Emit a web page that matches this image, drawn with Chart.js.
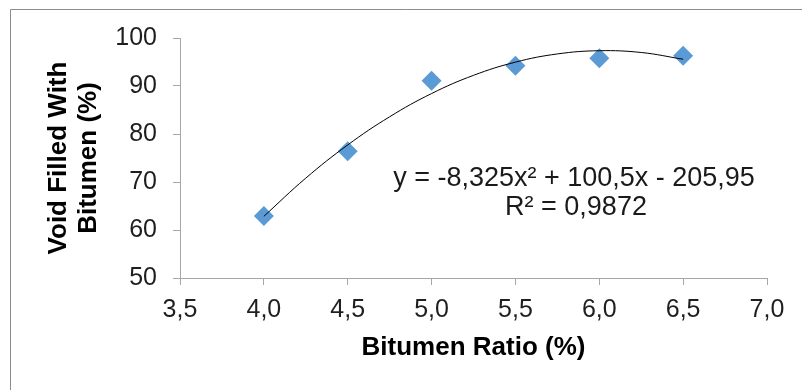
<!DOCTYPE html>
<html>
<head>
<meta charset="utf-8">
<script src="https://cdn.jsdelivr.net/npm/chart.js@4/dist/chart.umd.min.js"></script>
<style>
  html, body { margin: 0; padding: 0; background: #ffffff; }
  #wrap { width: 802px; height: 390px; }
</style>
</head>
<body>
<div id="wrap"><canvas id="c" width="802" height="390"></canvas></div>
<script>
// ---- data ----
const bitumenRatio = [4.0, 4.5, 5.0, 5.5, 6.0, 6.5];
const voidFilled   = [62.9, 76.4, 91.1, 94.2, 95.8, 96.3];

// polynomial trendline (as printed on the chart), sampled points
const trendX = [4.0, 4.25, 4.5, 4.75, 5.0, 5.25, 5.5, 5.75, 6.0, 6.25, 6.5];
const trendY = [62.85, 70.81, 77.72, 83.59, 88.43, 92.22, 94.97, 96.68, 97.35, 96.98, 95.57];

const equationLines = ['y = -8,325x\u00B2 + 100,5x - 205,95', 'R\u00B2 = 0,9872'];

const xTitle = 'Bitumen Ratio (%)';
const yTitle = ['Void Filled With', 'Bitumen (%)'];
const xRange = [3.5, 7.0, 0.5];
const yRange = [50, 100, 10];

// ---- chart ----
const FONT = "'Liberation Sans', Arial, sans-serif";
const AXIS = '#a6a6a6';
const TEXT = '#1f1f1f';

const framePlugin = {
  id: 'frame',
  beforeDraw(chart) {
    const ctx = chart.ctx;
    ctx.save();
    ctx.fillStyle = '#ffffff';
    ctx.fillRect(0, 0, chart.width, chart.height);
    ctx.strokeStyle = '#8c8c8c';
    ctx.lineWidth = 1;
    ctx.beginPath();
    ctx.moveTo(10.5, chart.height);
    ctx.lineTo(10.5, 9.5);
    ctx.lineTo(chart.width, 9.5);
    ctx.stroke();
    ctx.restore();
  },
  afterDraw(chart) {
    const ctx = chart.ctx;
    ctx.save();
    ctx.fillStyle = '#1a1a1a';
    ctx.font = '27px ' + FONT;
    ctx.textAlign = 'center';
    ctx.textBaseline = 'alphabetic';
    ctx.fillText(equationLines[0], 574, 186);
    ctx.fillText(equationLines[1], 576, 215);
    ctx.restore();
  }
};

new Chart(document.getElementById('c'), {
  type: 'scatter',
  data: {
    datasets: [
      {
        label: 'Trend',
        type: 'line',
        data: trendX.map((x, i) => ({ x: x, y: trendY[i] })),
        borderColor: '#000000',
        borderWidth: 1,
        pointRadius: 0,
        tension: 0.4,
        fill: false,
        order: 0
      },
      {
        label: 'VFB',
        data: bitumenRatio.map((x, i) => ({ x: x, y: voidFilled[i] })),
        pointStyle: 'rectRot',
        pointRadius: 10,
        pointHoverRadius: 10,
        backgroundColor: '#5b9bd5',
        borderColor: '#5b9bd5',
        borderWidth: 0,
        order: 1
      }
    ]
  },
  options: {
    responsive: false,
    animation: false,
    devicePixelRatio: 1,
    layout: { padding: { top: 38, right: 35, left: 0, bottom: 0 } },
    plugins: { legend: { display: false }, tooltip: { enabled: false } },
    scales: {
      x: {
        type: 'linear',
        min: xRange[0], max: xRange[1],
        afterFit: (s) => { s.height = 112; },
        ticks: {
          stepSize: xRange[2],
          color: TEXT,
          font: { family: FONT, size: 25 },
          padding: 10,
          maxRotation: 0,
          callback: (v) => Number(v).toFixed(1).replace('.', ',')
        },
        grid: { drawOnChartArea: false, drawTicks: true, tickLength: 7, color: AXIS, lineWidth: 1 },
        border: { color: AXIS, width: 1 },
        title: {
          display: true, text: xTitle, color: '#000000',
          font: { family: FONT, size: 26, weight: 'bold', lineHeight: 1.15 },
          padding: { top: 0, bottom: 27 }
        }
      },
      y: {
        type: 'linear',
        min: yRange[0], max: yRange[1],
        afterFit: (s) => { s.width = 180; },
        ticks: {
          stepSize: yRange[2],
          color: TEXT,
          font: { family: FONT, size: 25 },
          padding: 16
        },
        grid: { drawOnChartArea: false, drawTicks: true, tickLength: 7, color: AXIS, lineWidth: 1 },
        border: { color: AXIS, width: 1 },
        title: {
          display: true, text: yTitle, color: '#000000',
          font: { family: FONT, size: 26, weight: 'bold', lineHeight: 1.15 },
          padding: { top: 44, bottom: 0 }
        }
      }
    }
  },
  plugins: [framePlugin]
});
</script>
</body>
</html>
